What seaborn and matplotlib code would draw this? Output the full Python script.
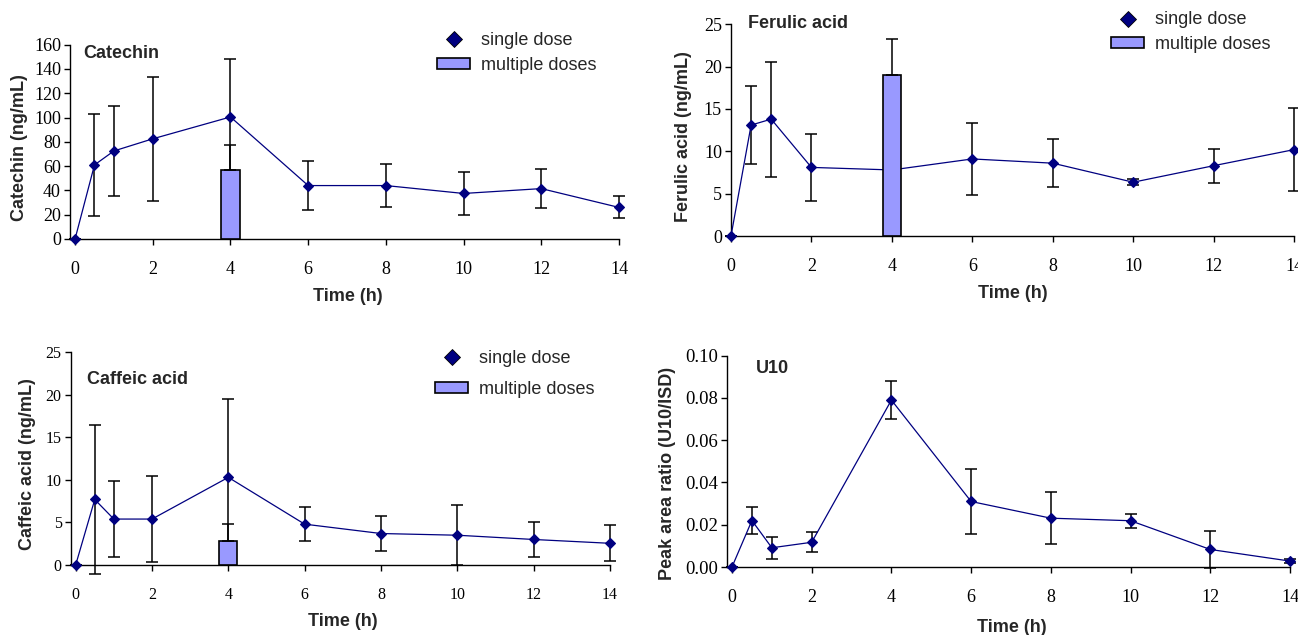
import numpy as np
import pandas as pd
import matplotlib
matplotlib.use("Agg")
import matplotlib.pyplot as plt
import seaborn as sns
from matplotlib.lines import Line2D
from matplotlib.patches import Patch
from matplotlib.ticker import FormatStrFormatter, MultipleLocator

# ---------------- data ----------------
time_h = [0, 0.5, 1, 2, 4, 6, 8, 10, 12, 14]
multi_time = [4]

catechin_single = [0, 61, 72.5, 82.5, 100.5, 44, 44, 37.5, 41.5, 26]
catechin_single_sd = [0, 42, 37, 51, 48, 20, 18, 18, 16, 9]
catechin_multi = [57]
catechin_multi_sd = [20.5]

ferulic_single = [0, 13.1, 13.8, 8.1, 7.8, 9.1, 8.6, 6.35, 8.3, 10.2]
ferulic_single_sd = [0, 4.6, 6.8, 4.0, 4.0, 4.2, 2.85, 0.35, 2.0, 4.9]
ferulic_multi = [19.05]
ferulic_multi_sd = [4.25]

caffeic_single = [0, 7.7, 5.4, 5.4, 10.3, 4.8, 3.7, 3.5, 3.0, 2.55]
caffeic_single_sd = [0, 8.8, 4.5, 5.1, 9.25, 2.0, 2.1, 3.5, 2.05, 2.1]
caffeic_multi = [2.8]
caffeic_multi_sd = [2.0]

u10_single = [0, 0.022, 0.0091, 0.0117, 0.079, 0.031, 0.0231, 0.0219, 0.0083, 0.0028]
u10_single_sd = [0, 0.0066, 0.0051, 0.0047, 0.009, 0.0152, 0.0124, 0.0034, 0.0086, 0.001]

x_ticks = [0, 2, 4, 6, 8, 10, 12, 14]
legend_labels = ["single dose", "multiple doses"]

# ---------------- style ----------------
W, H = 1298, 635
DPI = 100
sns.set_style("ticks")
plt.rcParams["font.family"] = ["Liberation Serif", "DejaVu Serif"]
NAVY = "#000080"
BARC = "#9999FF"
SANS = ["Liberation Sans", "DejaVu Sans"]
BOLD_SIZE = 13

fig = plt.figure(figsize=(W / DPI, H / DPI), dpi=DPI)


def fx(x):
    return x / W


def fy(y):
    return 1 - y / H


panels = [
    dict(name="Catechin", ylabel="Catechin (ng/mL)", y=catechin_single, sd=catechin_single_sd,
         multi=catechin_multi, msd=catechin_multi_sd,
         box=(70, 44.7, 619, 239), xlim=(-0.13, 14), ylim=(0, 160), ystep=20, fmt="%d",
         bw=0.48, title_xy=(83, 53.7), ylab_xy=(19.5, 147.5), xlab_xy=(347.5, 297),
         leg=(437, 32), lsp=0.45, xts=13, yts=13, xpad=11.5),
    dict(name="Ferulic acid", ylabel="Ferulic acid (ng/mL)", y=ferulic_single, sd=ferulic_single_sd,
         multi=ferulic_multi, msd=ferulic_multi_sd,
         box=(731, 24.3, 1294, 236), xlim=(0, 14), ylim=(0, 25), ystep=5, fmt="%d",
         bw=0.45, title_xy=(747.7, 23.3), ylab_xy=(684, 136.7), xlab_xy=(1013, 293),
         leg=(1111, 11.5), lsp=0.41, xts=13, yts=13, xpad=12),
    dict(name="Caffeic acid", ylabel="Caffeic acid (ng/mL)", y=caffeic_single, sd=caffeic_single_sd,
         multi=caffeic_multi, msd=caffeic_multi_sd,
         box=(70.7, 352.3, 610, 565), xlim=(-0.13, 14), ylim=(0, 25), ystep=5, fmt="%d",
         bw=0.47, title_xy=(86.7, 380), ylab_xy=(27.5, 464.5), xlab_xy=(342.5, 621.5),
         leg=(435, 350), lsp=0.75, xts=11.5, yts=11.5, xpad=11.5),
    dict(name="U10", ylabel="Peak area ratio (U10/ISD)", y=u10_single, sd=u10_single_sd,
         multi=None, msd=None,
         box=(727, 355.7, 1290, 567), xlim=(-0.125, 14), ylim=(0, 0.10), ystep=0.02, fmt="%.2f",
         bw=0.45, title_xy=(755.7, 368.3), ylab_xy=(668, 473.3), xlab_xy=(1011.7, 627),
         leg=None, lsp=0.45, xts=13, yts=13.5, xpad=12),
]

for p in panels:
    x0, y0, x1, y1 = p["box"]
    ax = fig.add_axes([fx(x0), fy(y1), (x1 - x0) / W, (y1 - y0) / H])
    ax.set_facecolor("white")

    df = pd.DataFrame({"time": time_h, "value": p["y"]})
    # error bars of single dose
    eb = ax.errorbar(time_h, p["y"], yerr=p["sd"], fmt="none", ecolor="black",
                     elinewidth=1.1, capsize=4, capthick=1.1, zorder=2)
    for art in eb.lines[1] + eb.lines[2]:
        art.set_clip_on(False)
    sns.lineplot(data=df, x="time", y="value", ax=ax, color=NAVY, marker="D",
                 markersize=5.5, markeredgecolor=NAVY, markeredgewidth=0.8,
                 linewidth=0.9, errorbar=None, zorder=3, clip_on=False)

    if p["multi"] is not None:
        ax.bar(multi_time, p["multi"], width=p["bw"], color=BARC, edgecolor="black",
               linewidth=1.2, zorder=4)
        ax.errorbar(multi_time, p["multi"], yerr=[[0] * len(p["msd"]), p["msd"]],
                    fmt="none", ecolor="black", elinewidth=1.1, capsize=4,
                    capthick=1.1, zorder=5)

    ax.set_xlim(*p["xlim"])
    ax.set_ylim(*p["ylim"])
    ax.set_xticks(x_ticks)
    ax.yaxis.set_major_locator(MultipleLocator(p["ystep"]))
    ax.yaxis.set_major_formatter(FormatStrFormatter(p["fmt"]))
    sns.despine(ax=ax)
    for s in ["left", "bottom"]:
        ax.spines[s].set_linewidth(1.0)
        ax.spines[s].set_color("black")
    ax.tick_params(axis="x", length=4, width=1, pad=p["xpad"], labelsize=p["xts"], colors="black")
    ax.tick_params(axis="y", length=4, width=1, pad=2.5, labelsize=p["yts"], colors="black")

    ax.set_xlabel("")
    ax.set_ylabel("")
    fig.text(fx(p["xlab_xy"][0]), fy(p["xlab_xy"][1]), "Time (h)", ha="center", va="center",
             fontsize=BOLD_SIZE, fontweight="bold", family=SANS)
    fig.text(fx(p["ylab_xy"][0]), fy(p["ylab_xy"][1]), p["ylabel"], ha="center", va="center",
             rotation=90, fontsize=BOLD_SIZE, fontweight="bold", family=SANS)
    fig.text(fx(p["title_xy"][0]), fy(p["title_xy"][1]), p["name"], ha="left", va="center",
             fontsize=BOLD_SIZE, fontweight="bold", family=SANS)

    if p["leg"] is not None:
        handles = [
            Line2D([], [], linestyle="none", marker="D", markersize=8.5, color=NAVY,
                   markeredgecolor="black", markeredgewidth=0.6),
            Patch(facecolor=BARC, edgecolor="black", linewidth=1.2),
        ]
        ax.legend(handles, legend_labels, loc="upper left",
                  bbox_to_anchor=(fx(p["leg"][0]), fy(p["leg"][1])),
                  bbox_transform=fig.transFigure, frameon=False, borderpad=0,
                  borderaxespad=0, handlelength=1.85, handleheight=0.55,
                  handletextpad=0.6, labelspacing=p["lsp"],
                  prop={"family": SANS, "size": 13})

fig.savefig("out.png", dpi=DPI)
